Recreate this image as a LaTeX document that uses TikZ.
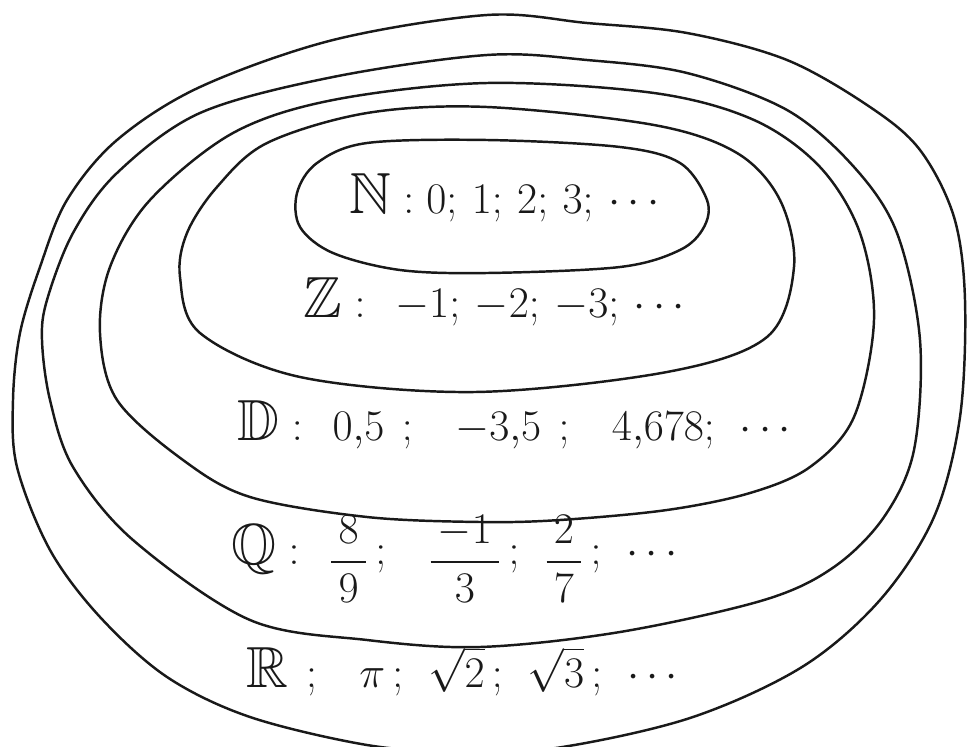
\documentclass[tikz,border=0pt]{standalone}
\usepackage{amsmath, amssymb}
\usepackage{tikz}
\definecolor{inkBlack}{RGB}{25, 25, 25}
\newcommand{\smallfrac}[2]{\raisebox{-5pt}{\fontsize{24}{28}\selectfont$\dfrac{\,#1\,}{\,#2\,}$}}

\begin{document}
\begin{tikzpicture}[x=0.02cm, y=-0.02cm,
    ring/.style={inkBlack, line width=1.4pt, line join=round},
    setlabel/.style={inkBlack, font=\fontsize{33}{40}\selectfont, inner sep=0pt, anchor=base}]
        \useasboundingbox (0,0) rectangle (967,747);
        % the five nested sets, outermost first
        \draw[ring] plot[smooth cycle, tension=0.55] coordinates {(487,15) (587,23) (687,33) (787,60) (870,107) (920,150) (954,217) (965,300) (960,417) (934,517) (880,600) (802,667) (690,718) (556,748) (460,752) (367,745) (250,717) (167,677) (100,617) (50,550) (17,467) (13,400) (20,333) (40,267) (67,200) (117,140) (200,87) (333,40)};
        \draw[ring] plot[smooth cycle, tension=0.55] coordinates {(487,55) (587,60) (687,73) (787,110) (854,167) (897,233) (920,340) (914,450) (884,517) (834,567) (764,600) (620,632) (480,647) (367,640) (250,620) (133,540) (73,467) (50,400) (42,340) (47,300) (73,233) (117,173) (200,113) (333,77)};
        \draw[ring] plot[smooth cycle, tension=0.55] coordinates {(487,83) (654,93) (754,120) (820,167) (860,233) (874,320) (854,417) (810,467) (750,493) (667,510) (560,520) (480,522) (367,517) (250,497) (183,460) (117,400) (100,333) (110,267) (150,200) (233,133) (333,100)};
        \draw[ring] plot[smooth cycle, tension=0.55] coordinates {(487,107) (654,125) (737,153) (780,200) (794,267) (767,337) (667,372) (475,392) (300,377) (200,333) (180,277) (187,233) (217,187) (267,143) (367,113)};
        \draw[ring] plot[smooth cycle, tension=0.55] coordinates {(487,140) (620,147) (680,163) (707,200) (704,227) (680,250) (620,267) (487,273) (400,270) (333,253) (300,227) (297,193) (317,163) (367,143)};
        % labels
        \node[setlabel] (labN) at (508,213) {$\mathbb{N}: 0;\, 1;\, 2;\, 3;\, \cdots$};
        \node[setlabel] (labZ) at (498,317) {$\mathbb{Z}:\ -1;\, -2;\, -3;\, \cdots$};
        \node[setlabel] (labD) at (518,440) {$\mathbb{D}:\ 0{,}5\ ;\ \ -3{,}5\ ;\ \ 4{,}678;\ \cdots$};
        \node[setlabel] (labQ) at (458,564) {$\mathbb{Q}:\ \smallfrac{8}{9}\,;\ \ \smallfrac{-1}{3}\,;\ \smallfrac{2}{7}\,;\ \cdots$};
        \node[setlabel] (labR) at (466,687) {$\mathbb{R}\ ;\ \ \pi\,;\ \sqrt{2}\,;\ \sqrt{3}\,;\ \cdots$};
      \end{tikzpicture}
\end{document}
